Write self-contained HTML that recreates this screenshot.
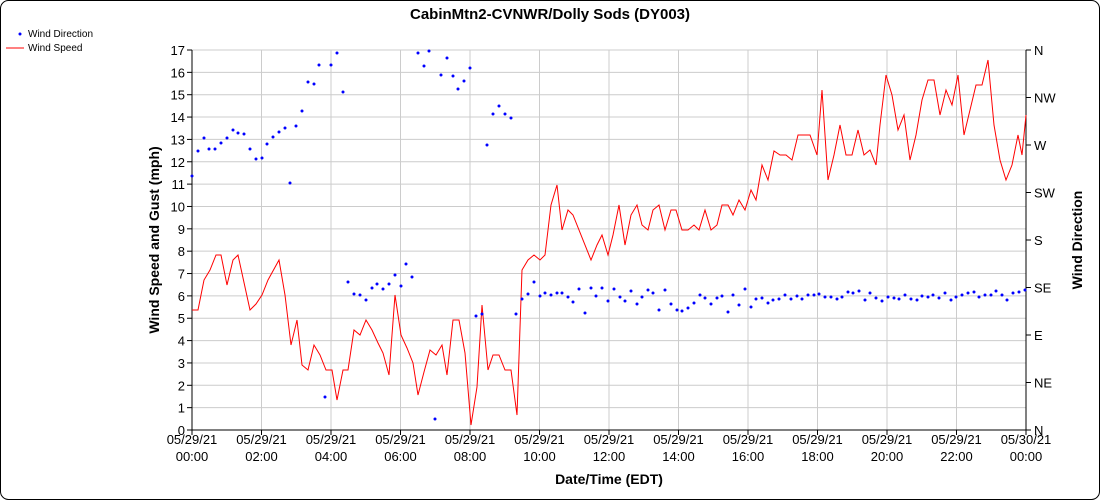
<!DOCTYPE html>
<html><head><style>body{margin:0;background:#fff}svg{display:block;font-family:"Liberation Sans",sans-serif}</style></head><body>
<svg width="1100" height="500" xmlns="http://www.w3.org/2000/svg">
<rect x="0.5" y="0.5" width="1099" height="499" rx="8" fill="#fff" stroke="#000"/>
<text x="550" y="19" text-anchor="middle" font-size="15" font-weight="bold">CabinMtn2-CVNWR/Dolly Sods (DY003)</text>
<circle cx="20" cy="34" r="1.5" fill="#00f"/><text x="28" y="37" font-size="10">Wind Direction</text>
<line x1="6" y1="48" x2="24" y2="48" stroke="#f00"/><text x="28" y="51" font-size="10">Wind Speed</text>
<g id="grid" stroke="#ccc" stroke-width="1"></g>
<g id="axes" stroke="#000"></g>
<g id="lbl" font-size="13"></g>
<polyline fill="none" stroke="#f00" stroke-width="1" points="192,310 198,310 204,280 210,270 216,255 221,255 227,285 233,260 238,255 250,310 256,304 262,295 268,280 279,260 285,295 291,345 297,320 302,365 308,370 314,345 320,355 326,370 332,370 337,400 343,370 348,370 354,330 360,335 366,320 372,330 378,343 383,353 389,375 395,295 401,335 407,348 413,363 418,395 424,372 430,350 436,355 442,345 447,375 453,320 459,320 465,353 471,425 477,387 482,305 488,370 493,355 499,355 505,370 511,370 517,415 522,270 528,260 534,255 540,260 545,255 551,205 557,185 562,230 568,210 573,215 591,260 597,245 602,235 608,255 613,235 619,205 625,245 631,215 637,205 642,225 648,230 653,210 659,205 665,230 671,210 676,210 682,230 688,230 694,225 699,230 705,210 711,230 717,225 722,205 728,205 733,215 739,200 745,210 751,190 756,200 762,165 768,180 774,151 780,155 786,155 792,160 798,135 804,135 810,135 817,155 822,90 828,180 834,155 840,125 846,155 852,155 858,130 864,155 870,150 876,165 880,125 886,75 892,95 898,130 904,115 910,160 916,135 922,100 928,80 934,80 940,115 946,90 952,105 958,75 964,135 970,110 976,85 982,85 988,60 994,125 1000,160 1006,180 1012,165 1018,135 1022,155 1026,115"/>
<g id="dots" fill="#00f"></g>
</svg>
<script>
const ns="http://www.w3.org/2000/svg";
function el(p,t,a,txt){const e=document.createElementNS(ns,t);for(const k in a)e.setAttribute(k,a[k]);if(txt!==undefined)e.textContent=txt;document.getElementById(p).appendChild(e);}
const x0=192,x1=1026,y0=430,y1=50;
for(let i=0;i<=17;i++){const y=y0-i*(y0-y1)/17;el('grid','line',{x1:x0,x2:x1,y1:y,y2:y});el('axes','line',{x1:187,x2:x0,y1:y,y2:y});el('lbl','text',{x:185,y:y+5,'text-anchor':'end'},i);}
const dirs=['N','NE','E','SE','S','SW','W','NW','N'];
for(let i=0;i<=8;i++){const y=y0-i*47.5;el('axes','line',{x1:x1,x2:x1+5,y1:y,y2:y});el('lbl','text',{x:1034,y:y+5},dirs[i]);}
for(let i=0;i<=12;i++){const x=x0+i*(x1-x0)/12;el('grid','line',{x1:x,x2:x,y1:y1,y2:y0});el('axes','line',{x1:x,x2:x,y1:y0,y2:y0+5});
 const h=(i*2)%24;el('lbl','text',{x:x,y:444,'text-anchor':'middle'},i==12?'05/30/21':'05/29/21');el('lbl','text',{x:x,y:461,'text-anchor':'middle'},(h<10?'0':'')+h+':00');}
el('axes','line',{x1:x0,x2:x0,y1:y1,y2:y0});el('axes','line',{x1:x1,x2:x1,y1:y1,y2:y0});el('axes','line',{x1:x0,x2:x1,y1:y0,y2:y0});
el('lbl','text',{x:609,y:484,'text-anchor':'middle','font-weight':'bold','font-size':'14'},'Date/Time (EDT)');
el('lbl','text',{x:159,y:240,'text-anchor':'middle','font-weight':'bold','font-size':'14',transform:'rotate(-90 159 240)'},'Wind Speed and Gust (mph)');
el('lbl','text',{x:1082,y:240,'text-anchor':'middle','font-weight':'bold','font-size':'14',transform:'rotate(-90 1082 240)'},'Wind Direction');
const d=[192,176,198,151,204,138,209,149,215,149,221,143,227,138,233,130,238,133,244,134,250,149,256,159,262,158,267,144,273,137,279,132,285,128,290,183,296,126,302,111,308,82,314,84,319,65,325,397,331,65,337,53,343,92,348,282,354,294,360,295,366,300,372,288,377,284,383,289,389,284,395,275,401,286,406,264,412,277,418,53,424,66,429,51,435,419,441,75,447,58,453,76,458,89,464,81,470,68,476,316,482,314,487,145,493,114,499,106,505,114,511,118,516,314,522,299,528,294,534,282,540,296,545,293,551,295,557,293,562,293,568,297,573,302,579,289,585,313,591,288,596,296,602,288,608,301,614,289,620,297,625,301,631,291,637,304,642,297,648,290,653,293,659,310,665,290,671,304,677,310,682,311,688,308,694,303,700,295,705,298,711,304,717,298,722,296,728,312,733,295,739,305,745,289,751,307,756,299,762,298,768,303,773,300,779,299,785,295,791,299,797,296,802,299,808,295,814,295,819,294,825,297,831,297,837,299,842,297,848,292,853,293,859,291,865,300,870,293,876,298,882,301,888,297,894,298,899,299,905,295,911,299,917,300,922,296,928,297,933,295,939,298,945,293,951,300,956,297,962,295,968,293,974,292,979,297,985,295,991,295,996,291,1002,295,1007,300,1013,293,1019,292,1025,290];
for(let i=0;i<d.length;i+=2)el('dots','circle',{cx:d[i],cy:d[i+1],r:1.5});
</script>
</body></html>
